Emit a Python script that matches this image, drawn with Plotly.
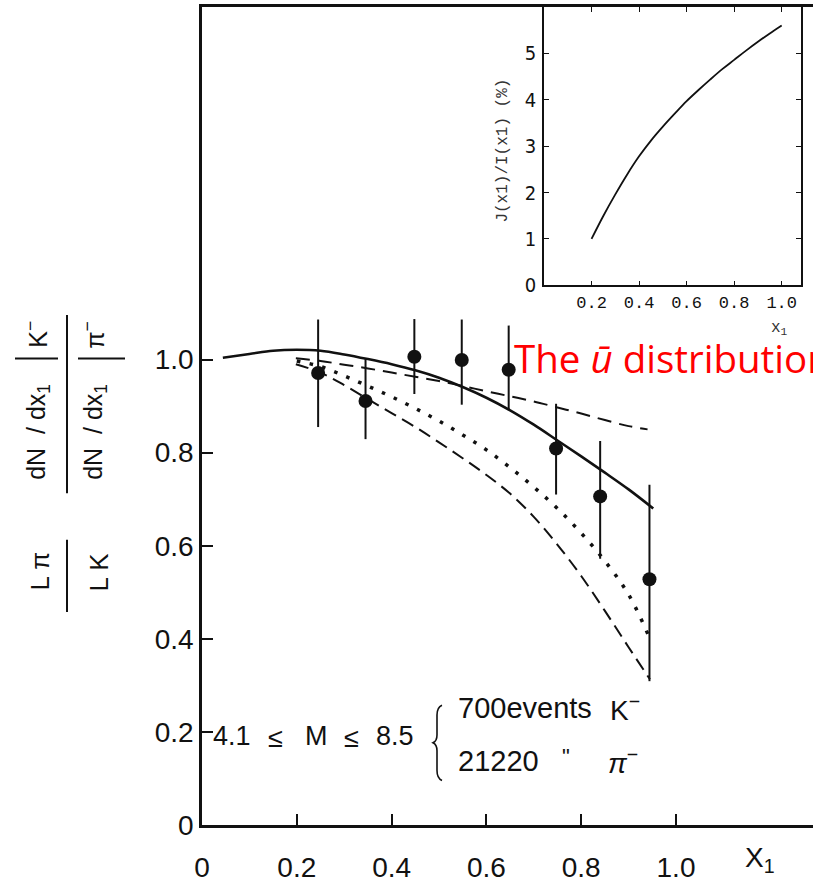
import plotly.graph_objects as go

# ---------------- data ----------------
pt_x = [0.245, 0.345, 0.448, 0.548, 0.647, 0.747, 0.840, 0.944]
pt_y = [0.971, 0.911, 1.006, 0.999, 0.978, 0.809, 0.706, 0.528]
err_up = [0.115, 0.090, 0.081, 0.087, 0.095, 0.096, 0.119, 0.203]
err_dn = [0.116, 0.082, 0.080, 0.096, 0.087, 0.099, 0.134, 0.219]

solid_x = [0.044, 0.10, 0.15, 0.20, 0.25, 0.30, 0.35, 0.40, 0.45, 0.50, 0.55,
           0.60, 0.65, 0.70, 0.75, 0.80, 0.85, 0.90, 0.952]
solid_y = [1.004, 1.012, 1.019, 1.021, 1.019, 1.011, 1.001, 0.990, 0.977, 0.961,
           0.941, 0.918, 0.891, 0.860, 0.826, 0.792, 0.757, 0.721, 0.680]

upper_x = [0.198, 0.25, 0.30, 0.35, 0.40, 0.45, 0.50, 0.55, 0.60, 0.65, 0.70,
           0.75, 0.80, 0.85, 0.90, 0.94]
upper_y = [1.003, 0.997, 0.989, 0.981, 0.972, 0.963, 0.954, 0.943, 0.932, 0.921,
           0.910, 0.897, 0.884, 0.870, 0.857, 0.850]

dot_x = [0.20, 0.25, 0.30, 0.35, 0.40, 0.45, 0.50, 0.55, 0.60, 0.65, 0.70,
         0.75, 0.80, 0.85, 0.90, 0.945]
dot_y = [0.997, 0.985, 0.965, 0.943, 0.920, 0.895, 0.868, 0.838, 0.806, 0.768,
         0.726, 0.680, 0.627, 0.567, 0.495, 0.400]

lower_x = [0.198, 0.25, 0.30, 0.35, 0.40, 0.45, 0.50, 0.55, 0.60, 0.65, 0.70,
           0.75, 0.80, 0.85, 0.90, 0.945]
lower_y = [0.990, 0.972, 0.945, 0.915, 0.885, 0.855, 0.822, 0.788, 0.752, 0.712,
           0.662, 0.602, 0.535, 0.460, 0.382, 0.313]

inset_x = [0.20, 0.25, 0.30, 0.35, 0.40, 0.45, 0.50, 0.55, 0.60, 0.65, 0.70,
           0.75, 0.80, 0.85, 0.90, 0.95, 1.00]
inset_y = [1.00, 1.50, 1.96, 2.39, 2.78, 3.12, 3.42, 3.70, 3.97, 4.21, 4.44,
           4.66, 4.86, 5.06, 5.25, 5.43, 5.60]

main_xticks = [0, 0.2, 0.4, 0.6, 0.8, 1.0]
main_xtext = ["0", "0.2", "0.4", "0.6", "0.8", "1.0"]
main_yticks = [0, 0.2, 0.4, 0.6, 0.8, 1.0]
main_ytext = ["0", "0.2", "0.4", "0.6", "0.8", "1.0"]
inset_xticks = [0.2, 0.4, 0.6, 0.8, 1.0]
inset_xtext = ["0.2", "0.4", "0.6", "0.8", "1.0"]
inset_yticks = [0, 1, 2, 3, 4, 5]
inset_ytext = ["0", "1", "2", "3", "4", "5"]

# ---------------- layout geometry ----------------
W, H = 813, 883
L, R, T, B = 202, 0, 7, 50
PW, PH = W - L - R, H - T - B


def px(x):
    return (x - L) / PW


def py(y):
    return (H - B - y) / PH


BLACK = "#111111"
SANS = "Liberation Sans, Arial, sans-serif"
MONO = "Liberation Mono, DejaVu Sans Mono, monospace"
COND = "DejaVu Sans Condensed, Liberation Sans Narrow, Liberation Sans, sans-serif"

fig = go.Figure()

fig.add_trace(go.Scatter(x=solid_x, y=solid_y, mode="lines",
                         line=dict(color=BLACK, width=2.6, shape="spline"),
                         showlegend=False, hoverinfo="skip"))
fig.add_trace(go.Scatter(x=upper_x, y=upper_y, mode="lines",
                         line=dict(color=BLACK, width=2, dash="14px,8px", shape="spline"),
                         showlegend=False, hoverinfo="skip"))
fig.add_trace(go.Scatter(x=dot_x, y=dot_y, mode="lines",
                         line=dict(color=BLACK, width=3.5, dash="3.5px,9.5px", shape="spline"),
                         showlegend=False, hoverinfo="skip"))
fig.add_trace(go.Scatter(x=lower_x, y=lower_y, mode="lines",
                         line=dict(color=BLACK, width=2, dash="13px,7px", shape="spline"),
                         showlegend=False, hoverinfo="skip"))
fig.add_trace(go.Scatter(x=pt_x, y=pt_y, mode="markers",
                         marker=dict(color=BLACK, size=14),
                         error_y=dict(type="data", symmetric=False, array=err_up, arrayminus=err_dn,
                                      color=BLACK, thickness=2, width=0),
                         showlegend=False, hoverinfo="skip"))

fig.add_trace(go.Scatter(x=inset_x, y=inset_y, mode="lines", xaxis="x2", yaxis="y2",
                         line=dict(color=BLACK, width=1.8, shape="spline"),
                         showlegend=False, hoverinfo="skip"))

ann = []


def text(s, x, y, size, font=SANS, color=BLACK, xa="center", ya="middle", angle=0):
    ann.append(dict(text=s, x=px(x), y=py(y), xref="paper", yref="paper", showarrow=False,
                    xanchor=xa, yanchor=ya, textangle=angle,
                    font=dict(size=size, family=font, color=color)))


# y-axis title (rotated fraction expression)
text("dN  / dx<sub>1</sub>", 38, 436, 25, angle=-90)
text("K<sup>\u2212</sup>", 36, 338, 25, angle=-90)
text("dN  / dx<sub>1</sub>", 95, 436, 25, angle=-90)
text("\u03c0<sup>\u2212</sup>", 93, 339, 25, angle=-90)
text("L \u03c0", 40, 577, 26, angle=-90)
text("L K", 99, 578, 26, angle=-90)

# x-axis title
text("X<sub>1</sub>", 743, 868, 28, xa="left")

# in-plot text
text("4.1", 211, 743, 27, xa="left")
text("\u2264", 266, 745, 27, xa="left")
text("M", 303, 743, 27, xa="left")
text("\u2264", 342, 745, 27, xa="left")
text("8.5", 374, 743, 27, xa="left")
text("700events", 456, 715, 29, xa="left")
text("K<sup>\u2212</sup>", 608, 715, 28, xa="left")
text("21220", 456, 768, 29, xa="left")
text("\"", 560, 764, 22, xa="left")
text("<i>\u03c0</i><sup>\u2212</sup>", 606, 768, 28, xa="left")

# inset titles
text("J(x1)/I(x1) (%)", 503, 152, 16, font=MONO, color="#333333", angle=-90)
text("x<sub>1</sub>", 769, 332, 16, font=MONO, color="#333333", xa="left")

# red overlay caption
text("The <i>\u016b</i> distribution", 512, 361, 38.5, font="Open Sans, Liberation Sans, sans-serif",
     color="#ff0000", xa="left")

shapes = []


def line(x0, y0, x1, y1, w=2):
    shapes.append(dict(type="line", xref="paper", yref="paper", x0=px(x0), y0=py(y0),
                       x1=px(x1), y1=py(y1), line=dict(color=BLACK, width=w)))


line(67, 318, 67, 498, 2)
line(67, 545, 67, 618, 2)
line(15, 362, 58, 362, 2)
line(78, 362, 125, 362, 2)

# curly brace
pts = [(442, 712), (437, 714), (437, 722), (437, 742), (437, 748), (433, 750), (437, 752),
       (437, 758), (437, 778), (437, 786), (442, 788)]
path = "M {},{} Q {},{} {},{} L {},{} Q {},{} {},{} Q {},{} {},{} L {},{} Q {},{} {},{}".format(
    *[v for p in pts for v in (px(p[0]), py(p[1]))])
shapes.append(dict(type="path", xref="paper", yref="paper", path=path,
                   line=dict(color=BLACK, width=1.6)))

fig.update_layout(
    width=W, height=H,
    margin=dict(l=L, r=R, t=T, b=B),
    paper_bgcolor="white", plot_bgcolor="white",
    showlegend=False,
    annotations=ann, shapes=shapes,
    xaxis=dict(range=[0, PW / 474.0], domain=[0, 1], showgrid=False, zeroline=False,
               showline=True, linecolor=BLACK, linewidth=2.5, mirror=True,
               tickmode="array", tickvals=main_xticks, ticktext=main_xtext,
               ticks="inside", ticklen=11, tickwidth=2, tickcolor=BLACK,
               ticklabelstandoff=16,
               tickfont=dict(size=28, family=SANS, color=BLACK)),
    yaxis=dict(range=[0, PH / 470.0], domain=[0, 1], showgrid=False, zeroline=False,
               showline=True, linecolor=BLACK, linewidth=2.5,
               tickmode="array", tickvals=main_yticks, ticktext=main_ytext,
               ticks="inside", ticklen=11, tickwidth=2, tickcolor=BLACK,
               ticklabelstandoff=0,
               tickfont=dict(size=28, family=SANS, color=BLACK)),
    xaxis2=dict(range=[0, 1.08], domain=[px(544), px(800.7)], anchor="y2",
                showgrid=False, zeroline=False, showline=True, linecolor=BLACK, linewidth=1.5,
                mirror="ticks", tickmode="array", tickvals=inset_xticks, ticktext=inset_xtext,
                ticks="inside", ticklen=5, tickwidth=1.2, tickcolor=BLACK,
                ticklabelstandoff=1,
                tickfont=dict(size=17, family=MONO, color=BLACK)),
    yaxis2=dict(range=[0, 6.0], domain=[py(288), 1], anchor="x2",
                showgrid=False, zeroline=False, showline=True, linecolor=BLACK, linewidth=1.5,
                mirror="ticks", tickmode="array", tickvals=inset_yticks, ticktext=inset_ytext,
                ticks="inside", ticklen=5, tickwidth=1.2, tickcolor=BLACK,
                ticklabelstandoff=2,
                tickfont=dict(size=20, family=COND, color=BLACK)),
)

fig.write_html("out.html")
